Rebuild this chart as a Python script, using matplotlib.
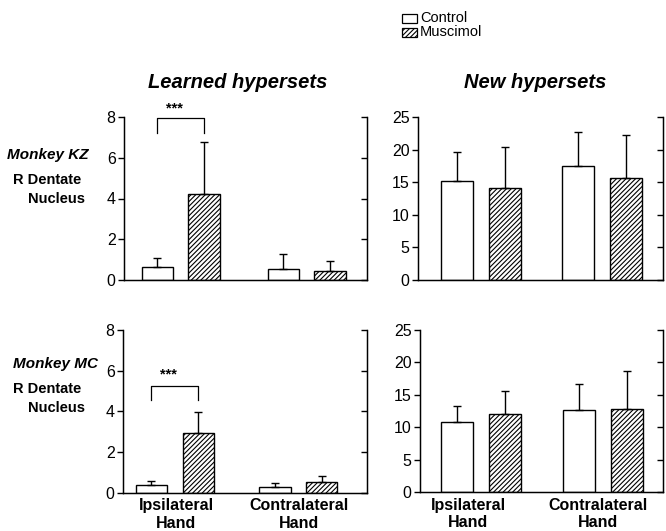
import matplotlib
matplotlib.use("Agg")
import matplotlib.pyplot as plt
import numpy as np
from matplotlib.patches import Rectangle

plt.rcParams['font.family'] = ['Liberation Sans', 'DejaVu Sans']
plt.rcParams['hatch.linewidth'] = 0.8

hands = ["Ipsilateral\nHand", "Contralateral\nHand"]
conditions = ["Control", "Muscimol"]

# Monkey KZ
kz_learned_control = [0.65, 0.54]
kz_learned_control_err = [0.44, 0.73]
kz_learned_musc = [4.22, 0.44]
kz_learned_musc_err = [2.56, 0.51]
kz_new_control = [15.2, 17.5]
kz_new_control_err = [4.5, 5.15]
kz_new_musc = [14.06, 15.7]
kz_new_musc_err = [6.3, 6.6]

# Monkey MC
mc_learned_control = [0.38, 0.27]
mc_learned_control_err = [0.21, 0.22]
mc_learned_musc = [2.92, 0.54]
mc_learned_musc_err = [1.05, 0.28]
mc_new_control = [10.77, 12.66]
mc_new_control_err = [2.5, 4.05]
mc_new_musc = [12.05, 12.77]
mc_new_musc_err = [3.55, 5.95]

W, H = 666, 531
fig = plt.figure(figsize=(W / 100, H / 100), dpi=100)

def px_axes(x0, x1, ybot, ytop):
    return fig.add_axes([x0 / W, 1 - ybot / H, (x1 - x0) / W, (ybot - ytop) / H])

panels = [
    dict(rect=(124, 367, 280, 117), ymax=8, yt=np.arange(0, 9, 2), xlim=(-0.45, 1.478),
         off=0.185, bw=0.25, c=kz_learned_control, ce=kz_learned_control_err,
         m=kz_learned_musc, me=kz_learned_musc_err, xl=False, lab_off=(0, 0),
         sig=(7.95, 7.2, 8.4, -0.05)),
    dict(rect=(418, 663, 280, 117), ymax=25, yt=np.arange(0, 26, 5), xlim=(-0.52, 1.504),
         off=0.2, bw=0.264, c=kz_new_control, ce=kz_new_control_err,
         m=kz_new_musc, me=kz_new_musc_err, xl=False, lab_off=(0, 0), sig=None),
    dict(rect=(123, 367, 492.7, 330), ymax=8, yt=np.arange(0, 9, 2), xlim=(-0.42, 1.557),
         off=0.19, bw=0.255, c=mc_learned_control, ce=mc_learned_control_err,
         m=mc_learned_musc, me=mc_learned_musc_err, xl=True, lab_off=(0.01, 0.005),
         sig=(5.24, 4.55, 5.79, -0.05)),
    dict(rect=(420, 663, 492.3, 330), ymax=25, yt=np.arange(0, 26, 5), xlim=(-0.50, 1.49),
         off=0.195, bw=0.262, c=mc_new_control, ce=mc_new_control_err,
         m=mc_new_musc, me=mc_new_musc_err, xl=True, lab_off=(-0.107, -0.045), sig=None),
]

x = np.arange(len(hands))
for p in panels:
    x0, x1, yb, yt_ = p['rect']
    ax = px_axes(x0, x1, yb, yt_)
    off, bw = p['off'], p['bw']
    zeros = np.zeros(len(hands))
    ax.bar(x - off, p['c'], bw, color='white', edgecolor='black', linewidth=1.0,
           yerr=[zeros, p['ce']], error_kw=dict(ecolor='black', elinewidth=1.0,
                                                capsize=3, capthick=1.0), zorder=2)
    ax.bar(x + off, p['m'], bw, color='white', edgecolor='black', linewidth=1.0,
           hatch='///////', yerr=[zeros, p['me']],
           error_kw=dict(ecolor='black', elinewidth=1.0, capsize=3, capthick=1.0), zorder=2)
    ax.set_ylim(0, p['ymax'])
    ax.set_xlim(*p['xlim'])
    ax.set_yticks(p['yt'])
    ax.tick_params(axis='y', direction='out', length=4, width=1.0, labelsize=11.5, pad=2)
    ax.spines['top'].set_visible(False)
    for s in ['left', 'bottom', 'right']:
        ax.spines[s].set_linewidth(1.0)
    ax2 = ax.twinx()
    ax2.set_ylim(0, p['ymax'])
    ax2.set_yticks(p['yt'])
    ax2.tick_params(axis='y', direction='in', length=4, width=1.0, labelright=False)
    ax2.spines['top'].set_visible(False)
    if p['xl']:
        ax.set_xticks(x + np.array(p['lab_off']))
        ax.set_xticklabels(hands, fontsize=11.5, fontweight='bold', linespacing=1.2)
        ax.tick_params(axis='x', length=0, pad=4)
    else:
        ax.set_xticks([])
    if p['sig'] is not None:
        top, bot, star, sx = p['sig']
        xa, xb = -off, off
        ax.plot([xa, xa, xb, xb], [bot, top, top, bot], color='black', lw=0.9,
                clip_on=False)
        ax.text(sx, star, '***', ha='center', va='center',
                fontsize=10.5, fontweight='bold', clip_on=False)

# Column titles
fig.text(238 / W, 1 - 82 / H, 'Learned hypersets', ha='center', va='center',
         fontsize=14.5, fontweight='bold', style='italic')
fig.text(535 / W, 1 - 82 / H, 'New hypersets', ha='center', va='center',
         fontsize=14.5, fontweight='bold', style='italic')

# Row labels
for (name, y0, xm) in [('Monkey KZ', 155, 7), ('Monkey MC', 364, 13)]:
    fig.text(xm / W, 1 - y0 / H, name, ha='left', va='center', fontsize=11,
             fontweight='bold', style='italic')
    fig.text(13 / W, 1 - (y0 + 25) / H, 'R Dentate', ha='left', va='center',
             fontsize=10.5, fontweight='bold')
    fig.text(28 / W, 1 - (y0 + 44) / H, 'Nucleus', ha='left', va='center',
             fontsize=10.5, fontweight='bold')

# Legend (drawn manually)
for i, (lab, hatch) in enumerate(zip(conditions, [None, '///////'])):
    yc = 18 + i * 14.5
    r = Rectangle((402 / W, 1 - (yc + 4.5) / H), 15 / W, 9 / H, transform=fig.transFigure,
                  facecolor='white', edgecolor='black', linewidth=0.9, hatch=hatch)
    fig.add_artist(r)
    fig.text(420 / W, 1 - yc / H, lab, ha='left', va='center', fontsize=10.5)

fig.savefig('out.png', dpi=100)
